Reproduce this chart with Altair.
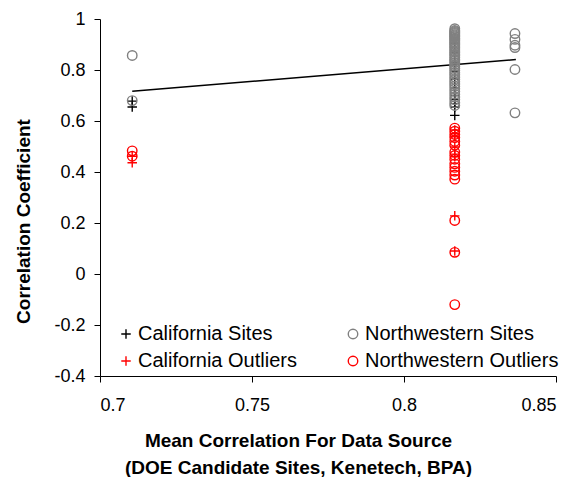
import altair as alt
import pandas as pd

# Series names; legend order fills the first column, then the second
series = ["California Sites", "California Outliers", "Northwestern Sites", "Northwestern Outliers"]
series_colors = ["#000000", "#FF0000", "#808080", "#FF0000"]
plus_path = "M-1,0L1,0M0,-1L0,1"
series_shapes = [plus_path, plus_path, "circle", "circle"]
series_sizes = [90, 90, 55, 55]

# Mean correlation of each data source (x position of each column of points)
source_mean = {"DOE": 0.7106, "Kenetech": 0.8167, "BPA": 0.8365}

# Site correlation coefficients per series and data source
ca_sites = {
    "DOE": [0.678, 0.655],
    "Kenetech": [0.905, 0.868, 0.830, 0.795, 0.764, 0.730, 0.700, 0.685, 0.668, 0.655, 0.622],
}
nw_sites = {
    "DOE": [0.857, 0.680],
    "Kenetech": [0.962, 0.955, 0.951, 0.947, 0.943, 0.938, 0.934, 0.930, 0.925, 0.921,
                 0.916, 0.910, 0.905, 0.900, 0.894, 0.888, 0.882, 0.875, 0.869, 0.862,
                 0.856, 0.849, 0.842, 0.836, 0.829, 0.821, 0.814, 0.806, 0.798, 0.789,
                 0.781, 0.772, 0.763, 0.754, 0.745, 0.736, 0.726, 0.716, 0.705, 0.694,
                 0.684, 0.672, 0.661],
    "BPA": [0.943, 0.920, 0.897, 0.888, 0.802, 0.632],
}
ca_outliers = {
    "DOE": [0.462, 0.436],
    "Kenetech": [0.565, 0.550, 0.540, 0.498, 0.470, 0.460, 0.228, 0.090],
}
nw_outliers = {
    "DOE": [0.483, 0.462],
    "Kenetech": [0.572, 0.560, 0.547, 0.535, 0.520, 0.505, 0.478, 0.465, 0.450, 0.432,
                 0.418, 0.403, 0.388, 0.372, 0.210, 0.085, -0.120],
}

# Linear trend line end points
trend_x = [0.7106, 0.8368]
trend_y = [0.717, 0.841]

# Drawing order: black crosses under grey circles, outliers on top
rows = []
for name, table in [("California Sites", ca_sites), ("Northwestern Sites", nw_sites),
                    ("California Outliers", ca_outliers), ("Northwestern Outliers", nw_outliers)]:
    for src, values in table.items():
        for v in values:
            rows.append({"mean": source_mean[src], "r": v, "series": name})
points_df = pd.DataFrame(rows)
trend_df = pd.DataFrame({"mean": trend_x, "r": trend_y})

font = "Liberation Sans"

x_enc = alt.X(
    "mean:Q",
    scale=alt.Scale(domain=[0.7, 0.85], nice=False, zero=False),
    axis=alt.Axis(
        values=[0.7, 0.75, 0.8, 0.85],
        labelExpr="'' + datum.value",
        title=["Mean Correlation For Data Source", "(DOE Candidate Sites, Kenetech, BPA)"],
        titleX=198,
        titleY=70,
        titleAlign="center",
        titleBaseline="alphabetic",
        titleLineHeight=27,
        labelPadding=14,
    ),
)
y_enc = alt.Y(
    "r:Q",
    scale=alt.Scale(domain=[-0.4, 1.0], nice=False, zero=False),
    axis=alt.Axis(
        values=[-0.4, -0.2, 0, 0.2, 0.4, 0.6, 0.8, 1.0],
        labelExpr="'' + datum.value",
        title="Correlation Coefficient",
        titleX=-71,
        titleY=202,
        titleAngle=270,
        titleAlign="center",
        titleBaseline="alphabetic",
        labelPadding=9,
    ),
)

trend = alt.Chart(trend_df).mark_line(color="black", strokeWidth=1.5).encode(x=x_enc, y=y_enc)

legend = alt.Legend(
    title=None,
    orient="none",
    legendX=16,
    legendY=305,
    columns=2,
    columnPadding=46,
    rowPadding=7,
    labelFont=font,
    labelFontSize=20,
    labelColor="black",
    labelOffset=2,
    labelLimit=400,
    symbolStrokeWidth=1.4,
    symbolFillColor="transparent",
    padding=0,
)

points = alt.Chart(points_df).mark_point(filled=False, strokeWidth=1.4, opacity=1).encode(
    x=x_enc,
    y=y_enc,
    color=alt.Color("series:N", scale=alt.Scale(domain=series, range=series_colors), legend=legend, sort=series),
    shape=alt.Shape("series:N", scale=alt.Scale(domain=series, range=series_shapes), legend=legend, sort=series),
    size=alt.Size("series:N", scale=alt.Scale(domain=series, range=series_sizes), legend=legend, sort=series),
)

chart = (
    alt.layer(trend, points)
    .properties(
        width=456,
        height=357,
        autosize=alt.AutoSizeParams(type="none"),
        padding={"left": 100, "top": 19, "right": 23, "bottom": 101},
        background="white",
    )
    .configure_view(stroke=None)
    .configure_axis(
        grid=False,
        domainColor="black",
        domainWidth=1,
        tickColor="black",
        tickSize=6,
        labelFont=font,
        labelFontSize=18,
        labelColor="black",
        titleFont=font,
        titleFontSize=19,
        titleFontWeight="bold",
        titleColor="black",
    )
)

chart.save("out.html", embed_options={"renderer": "svg", "actions": False})
